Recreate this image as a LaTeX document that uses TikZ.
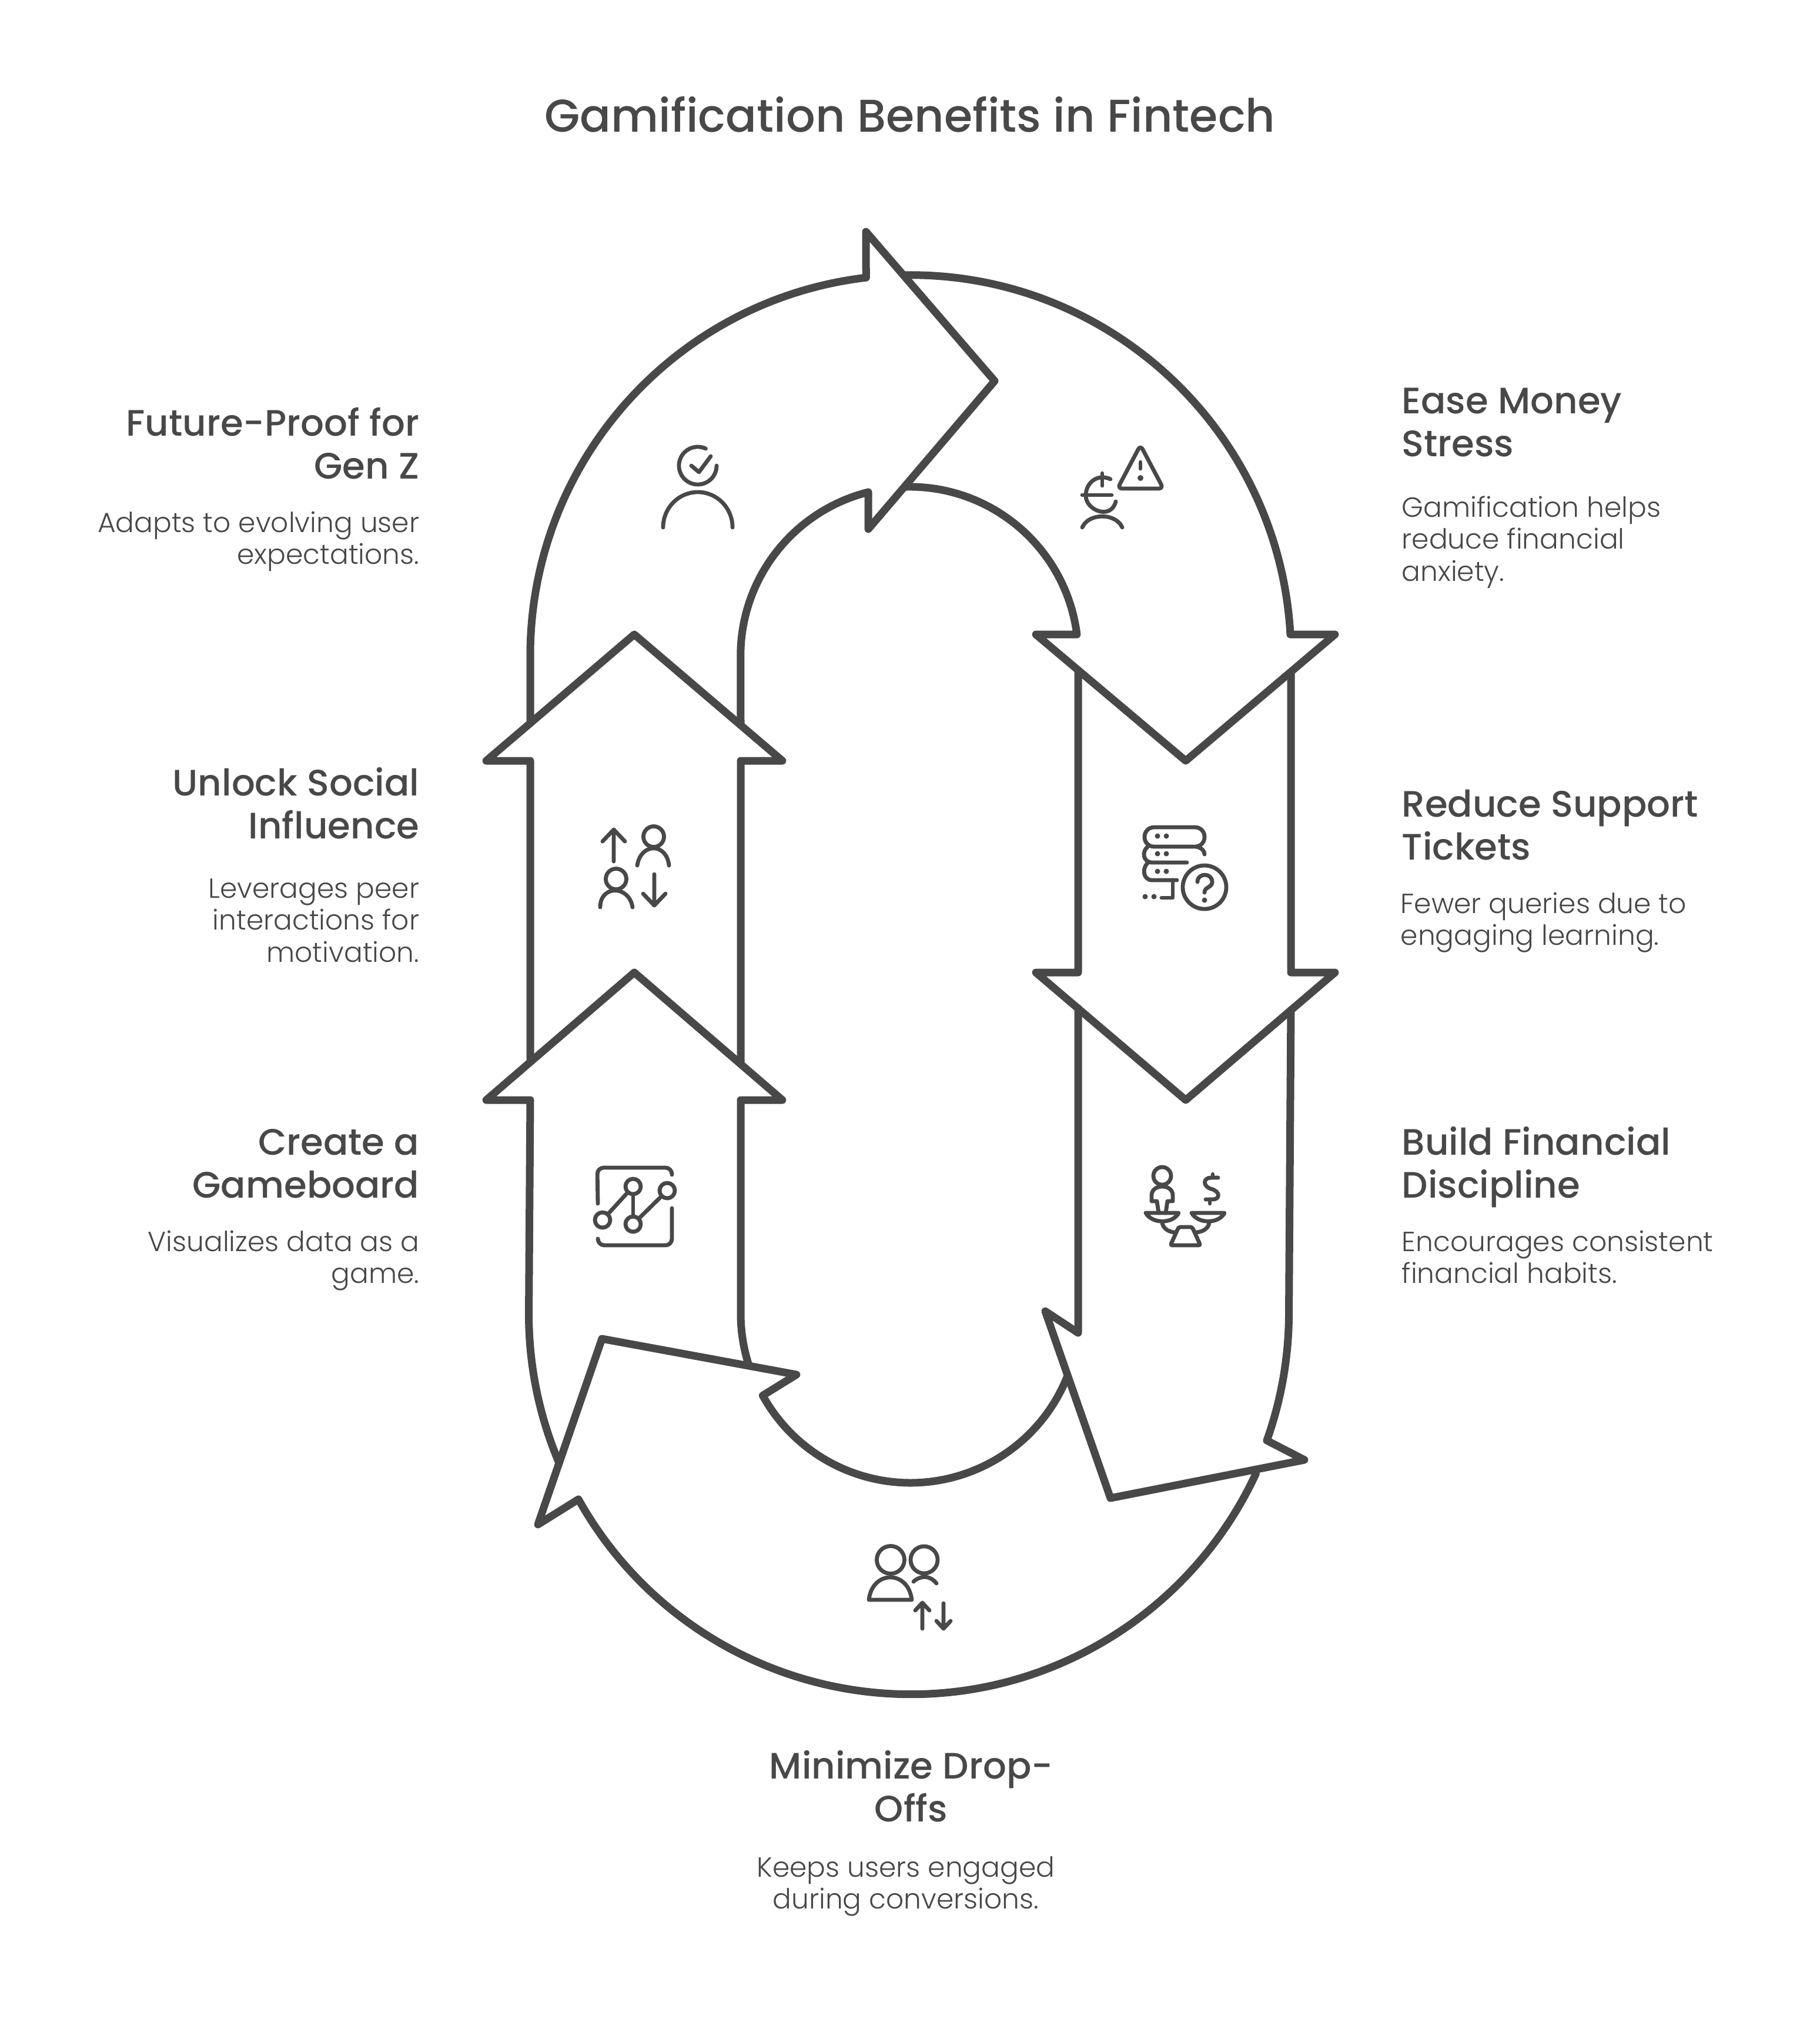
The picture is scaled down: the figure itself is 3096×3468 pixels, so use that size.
\documentclass[tikz,border=0pt]{standalone}
\usepackage{fontspec}
\setmainfont{Poppins Light}
\newfontfamily\headfont{Poppins Medium}
\definecolor{ink}{HTML}{484848}
\tikzset{
  band/.style={draw=ink,line width=0.13cm,line join=round,line cap=round},
  icon/.style={draw=ink,line width=0.068cm,line join=round,line cap=round},
  dotmark/.style={fill=ink},
  ring/.style={circle,draw=ink,line width=0.068cm,minimum size=0.26cm,inner sep=0pt},
  titletext/.style={text=ink,font=\headfont\fontsize{22.2pt}{26pt}\selectfont,inner sep=0pt},
  headL/.style={text=ink,font=\headfont\fontsize{17.8pt}{20.5pt}\selectfont,align=right,anchor=north east,inner sep=0pt},
  headR/.style={text=ink,font=\headfont\fontsize{17.8pt}{20.5pt}\selectfont,align=left,anchor=north west,inner sep=0pt},
  headC/.style={text=ink,font=\headfont\fontsize{17.8pt}{20.5pt}\selectfont,align=center,anchor=north,inner sep=0pt},
  descL/.style={text=ink,font=\fontsize{13.4pt}{15.45pt}\selectfont,align=right,anchor=north east,inner sep=0pt},
  descR/.style={text=ink,font=\fontsize{13.4pt}{15.45pt}\selectfont,align=left,anchor=north west,inner sep=0pt},
  descC/.style={text=ink,font=\fontsize{13.4pt}{15.45pt}\selectfont,align=center,anchor=north,inner sep=0pt},
}
\newcommand{\hs}{\rule{0pt}{14pt}}
\newcommand{\ds}{\rule{0pt}{11pt}}
\begin{document}
\begin{tikzpicture}[x=0.01cm,y=-0.01cm]
\useasboundingbox[fill=white] (0,0) rectangle (3096,3468);

% Title
\node[titletext] (title) at (1548,195) {Gamification Benefits in Fintech};

% Future-Proof arrow
\draw[band] (902,1230) -- (902,1115) arc[start angle=180,end angle=96.75,radius=6.47cm]
  -- (1473,394) -- (1692,648) -- (1477,900) -- (1477,837)
  arc[start angle=104.1,end angle=180,radius=2.87cm] -- (1260,1233);
% Ease Money arrow
\draw[band] (1541,828) arc[start angle=91.2,end angle=7.2,radius=2.87cm]
  -- (1762,1079) -- (2017,1294) -- (2271,1079) -- (2195,1079)
  arc[start angle=3.2,end angle=90.7,radius=6.47cm];
% Reduce Support arrow
\draw[band] (1834,1141) -- (1834,1654) -- (1762,1654) -- (2017,1871) -- (2271,1654) -- (2196,1654) -- (2196,1143);
% Build Financial arrow
\draw[band] (1834,1715) -- (1834,2267) -- (1778,2230) -- (1889,2548) -- (2219,2483) -- (2155,2450)
  arc[start angle=340.4,end angle=360,radius=6.47cm] -- (2196,1718);
% Minimize arrow
\draw[band] (1816,2340) arc[start angle=338.5,end angle=208.9,radius=2.87cm]
  -- (1355,2338) -- (1024,2277) -- (915,2593) -- (984,2550)
  arc[start angle=209.2,end angle=335.1,radius=6.47cm];
% Gameboard arrow
\draw[band] (951,2488) arc[start angle=203,end angle=180,radius=6.47cm] -- (902,1871)
  -- (827,1871) -- (1079,1654) -- (1331,1871) -- (1260,1871) -- (1260,2234)
  arc[start angle=180,end angle=197.9,radius=2.87cm];
% Unlock arrow
\draw[band] (902,1805) -- (902,1294) -- (827,1294) -- (1079,1079) -- (1331,1294) -- (1260,1294) -- (1260,1808);

% Icon: person with check
\draw[icon] (1187,792) ++(65:0.32cm) arc[start angle=65,end angle=360,radius=0.32cm];
\draw[icon] (1176,792) -- (1189,803) -- (1209,776);
\draw[icon] (1128,897) arc[start angle=180,end angle=0,x radius=0.59cm,y radius=0.60cm];

% Icon: euro person with warning
\draw[icon,rounded corners=0.08cm] (1940,757) -- (1979,831) -- (1901,831) -- cycle;
\draw[icon] (1940,786) -- (1940,797);
\fill[dotmark] (1940,813) circle[radius=0.05cm];
\draw[icon] (1889,815) .. controls (1868,805) and (1847,820) .. (1847,843) .. controls (1847,868) and (1890,885) .. (1898,853);
\draw[icon] (1841,842) -- (1891,842);
\draw[icon] (1875,805) -- (1875,826);
\draw[icon] (1841,897) .. controls (1852,872) and (1898,872) .. (1909,897);

% Icon: Unlock
\draw[icon] (1044,1465) -- (1044,1411) (1025,1431) -- (1044,1411) -- (1063,1431);
\draw[icon] (1112,1423) circle[radius=0.175cm];
\draw[icon] (1084,1472) .. controls (1090,1433) and (1134,1433) .. (1138,1472);
\draw[icon] (1048,1495) circle[radius=0.175cm];
\draw[icon] (1021,1543) .. controls (1021,1505) and (1070,1505) .. (1076,1543);
\draw[icon] (1113,1487) -- (1113,1540) (1094,1520) -- (1113,1540) -- (1132,1520);

% Icon: Reduce Support
\draw[icon,rounded corners=0.16cm] (1947,1407) rectangle (2049,1440);
\draw[icon] (1955,1438) .. controls (1940,1448) and (1945,1467) .. (1960,1467) -- (2019,1467);
\draw[icon] (2035,1440) .. controls (2044,1442) and (2049,1447) .. (2049,1453);
\draw[icon] (1952,1468) .. controls (1942,1478) and (1945,1497) .. (1960,1497) -- (2002,1497);
\draw[icon] (1995,1497) -- (1995,1527) -- (1976,1527);
\foreach \dx in {1969,1984} \foreach \dy in {1422,1452,1482} \fill[dotmark] (\dx,\dy) circle[radius=0.045cm];
\fill[dotmark] (1948,1525) circle[radius=0.045cm];
\fill[dotmark] (1963,1525) circle[radius=0.045cm];
\draw[icon] (2049,1509) circle[radius=0.37cm];
\draw[icon] (2037,1500) .. controls (2037,1484) and (2062,1484) .. (2062,1500) .. controls (2062,1510) and (2049,1508) .. (2049,1518);
\fill[dotmark] (2049,1531) circle[radius=0.045cm];

% Icon: Gameboard
\draw[icon,rounded corners=0.11cm] (1017,2047) -- (1016,1986) -- (1143,1986) -- (1143,1998);
\draw[icon,rounded corners=0.11cm] (1143,2055) -- (1143,2118) -- (1017,2118) -- (1017,2107);
\node[ring] (c1) at (1025,2075) {};
\node[ring] (c2) at (1077,2018) {};
\node[ring] (c3) at (1077,2082) {};
\node[ring] (c4) at (1135,2025) {};
\draw[icon] (c1) -- (c2);
\draw[icon] (c2) -- (c3);
\draw[icon] (c3) -- (c4);

% Icon: Build Financial
\draw[icon] (1977,2000) circle[radius=0.15cm];
\draw[icon] (1971,2063) -- (1968,2043) -- (1959,2043) -- (1959,2033) .. controls (1959,2023) and (1968,2018) .. (1977,2018)
  .. controls (1986,2018) and (1995,2023) .. (1995,2033) -- (1995,2043) -- (1986,2043) -- (1983,2063);
\draw[icon] (1949,2063) -- (2005,2063) .. controls (1995,2082) and (1960,2082) .. (1949,2063);
\draw[icon] (2027,2063) -- (2083,2063) .. controls (2073,2082) and (2038,2082) .. (2027,2063);
\draw[icon] (1977,2080) .. controls (1979,2090) and (1988,2095) .. (1998,2096);
\draw[icon] (2057,2080) .. controls (2055,2090) and (2046,2095) .. (2035,2096);
\draw[icon,rounded corners=0.03cm] (2005,2087) -- (2028,2087) -- (2042,2118) -- (1991,2118) -- cycle;
\draw[icon] (2072,2003) -- (2060,2003) .. controls (2046,2003) and (2046,2018) .. (2060,2022)
  .. controls (2076,2026) and (2076,2040) .. (2063,2040) -- (2051,2040);
\draw[icon] (2063,1997) -- (2063,2003) (2058,2040) -- (2058,2047);

% Icon: Minimize
\draw[icon] (1515,2653) circle[radius=0.235cm];
\draw[icon] (1478,2721) -- (1551,2721) .. controls (1545,2670) and (1484,2670) .. (1478,2721) -- cycle;
\draw[icon] (1572,2653) circle[radius=0.23cm];
\draw[icon] (1554,2690) .. controls (1566,2679) and (1582,2679) .. (1593,2693);
\draw[icon] (1569,2770) -- (1569,2726) (1557,2739) -- (1569,2726) -- (1581,2739);
\draw[icon] (1605,2727) -- (1605,2770) (1593,2757) -- (1605,2770) -- (1617,2757);

% Labels
\node[headL] (h1) at (714,692) {\hs Future-Proof for\\Gen Z};
\node[descL] (d1) at (714,866) {\ds Adapts to evolving user\\expectations.};
\node[headL] (h2) at (714,1304) {\hs Unlock Social\\Influence};
\node[descL] (d2) at (714,1488) {\ds Leverages peer\\interactions for\\motivation.};
\node[headL] (h3) at (714,1915) {\hs Create a\\Gameboard};
\node[descL] (d3) at (714,2089) {\ds Visualizes data as a\\game.};
\node[headR] (h4) at (2384,654) {\hs Ease Money\\Stress};
\node[descR] (d4) at (2384,840) {\ds Gamification helps\\reduce financial\\anxiety.};
\node[headR] (h5) at (2384,1340) {\hs Reduce Support\\Tickets};
\node[descR] (d5) at (2382,1514) {\ds Fewer queries due to\\engaging learning.};
\node[headR] (h6) at (2384,1915) {\hs Build Financial\\Discipline};
\node[descR] (d6) at (2384,2089) {\ds Encourages consistent\\financial habits.};
\node[headC] (h7) at (1550,2976) {\hs Minimize Drop-\\Offs};
\node[descC] (d7) at (1541,3153) {\ds Keeps users engaged\\during conversions.};
\end{tikzpicture}
\end{document}
